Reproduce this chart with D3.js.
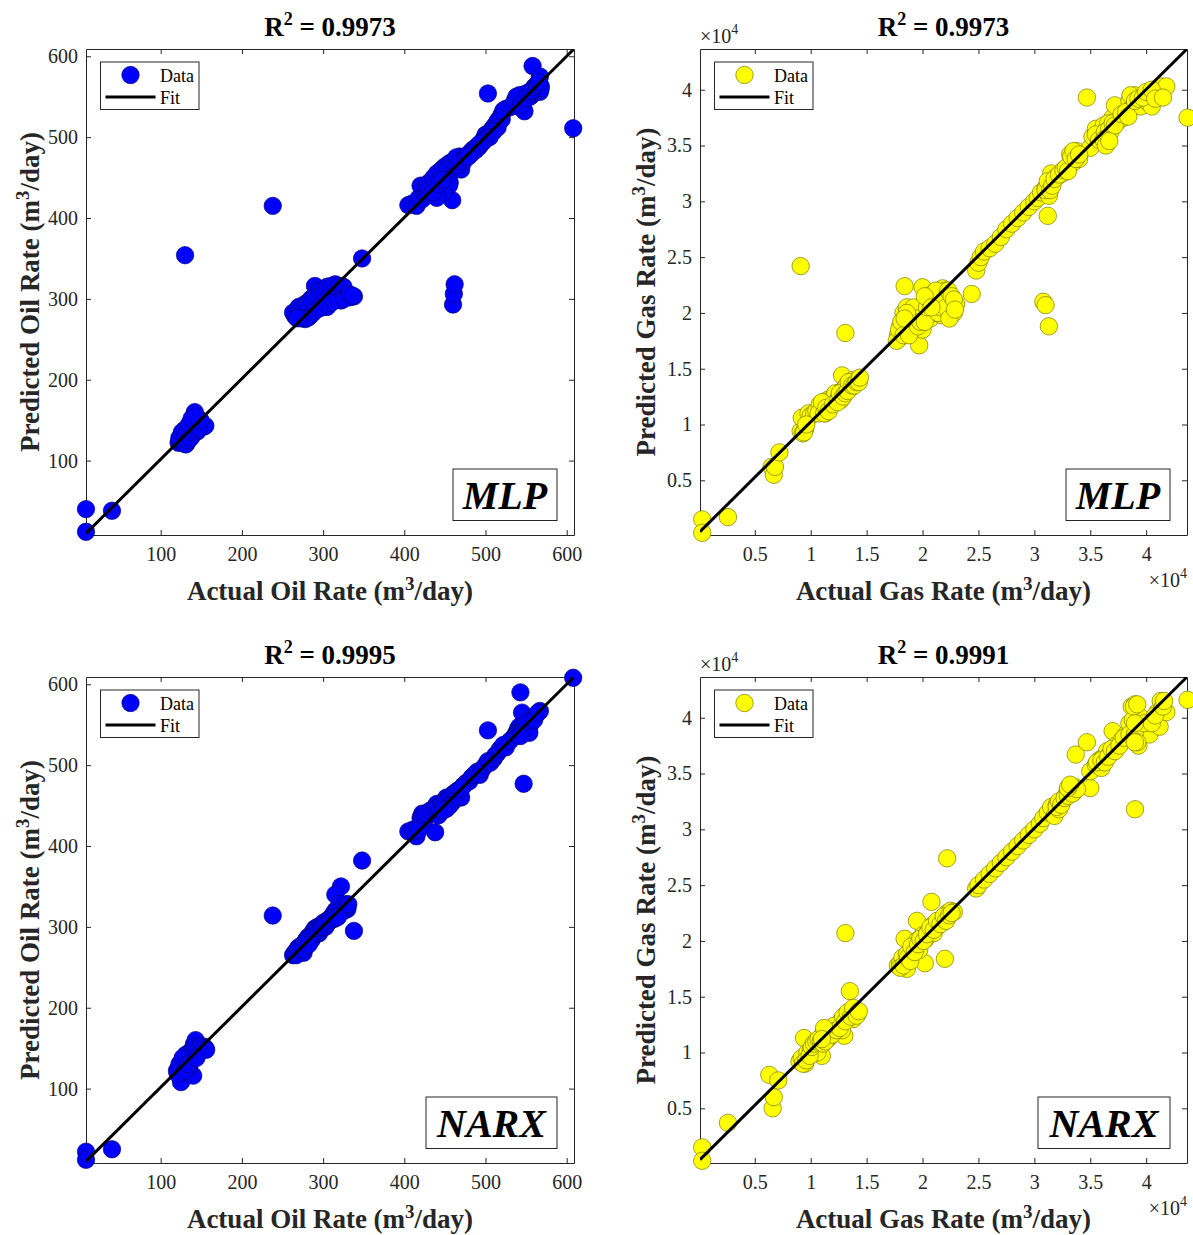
<!DOCTYPE html>
<html><head><meta charset="utf-8">
<script src="https://cdn.jsdelivr.net/npm/d3@7"></script>
<style>body{margin:0;background:#fff} svg{display:block}</style>
</head><body><svg id="c" width="1193" height="1235"></svg>
<script>
// ---------- data ----------
const oilTicks = [100, 200, 300, 400, 500, 600];
const gasTicks = [0.5, 1, 1.5, 2, 2.5, 3, 3.5, 4];            // ×10^4
const oilDomain = [8, 609];
const gasDomain = [0.01, 4.365];
const r2Values = ["0.9973", "0.9973", "0.9995", "0.9991"];
const modelNames = ["MLP", "MLP", "NARX", "NARX"];
const legendLabels = ["Data", "Fit"];
const oilFit = [[8, 10], [609, 609]];
const gasFit = [[0.01, 0.04], [4.365, 4.365]];

// [actual, predicted]
const mlpOil = [
 [8,40],[8,12],[40,38],[130,354],[238,415],[348,350],[338,303],[460,293],[461,306],[462,318],[459,422],[503,554],[608,511],[558,588],[567,575],[568,563],[567,556],
 [122,122],[124,125],[125,128],[126,131],[127,133],[128,124],[130,135],[130,126],[132,122],[133,130],[135,138],[137,140],[138,145],[138,130],[140,150],[141,155],[142,160],[143,148],[144,140],[145,136],[146,143],[148,145],[150,142],[153,142],[155,143],[135,128],[129,121],[131,120],[134,136],[140,142],
 [123,128],[126,135],[129,138],[131,132],[134,125],[137,128],[139,135],[142,138],[145,145],[147,140],[149,150],[135,145],[138,152],[143,155],
 [265,280],[268,284],[270,281],[272,278],[275,285],[278,282],[280,288],[282,290],[285,292],[287,295],[288,300],[290,316],[292,305],[295,298],[297,293],[300,300],[302,305],[305,296],[307,310],[310,302],[313,312],[315,318],[318,314],[320,308],[322,305],[325,310],[328,305],[330,303],[333,302],[294,294],[290,288],[284,279],[276,276],[300,290],[305,290],[312,299],[316,304],[263,283],[266,278],[308,300],
 [270,290],[275,292],[280,295],[285,300],[290,305],[295,310],[300,312],[305,315],[310,316],[315,312],[320,316],[325,315],[318,300],[322,298],[310,295],[300,295],[295,288],[288,283],[282,277],[278,275],[272,276],[268,276],[326,300],[332,306],[336,304],
 [405,416],[410,418],[415,415],[418,425],[420,440],[422,423],[425,430],[428,432],[432,438],[435,440],[438,446],[440,432],[442,428],[445,450],[448,455],[450,445],[452,448],[455,452],[457,457],[460,462],[462,465],[465,470],[468,476],[470,460],[472,468],[445,438],[438,436],[450,460],[456,444],[430,428],
 [428,442],[432,445],[436,450],[440,455],[444,458],[448,462],[452,465],[456,468],[460,470],[464,475],[466,465],[468,470],[455,440],[448,432],[440,425],[435,432],[442,442],[447,447],
 [475,475],[478,478],[482,482],[485,485],[488,487],[490,489],[492,488],[495,492],[498,498],[500,503],[502,500],[505,505],[508,510],[510,512],[512,515],[515,520],[518,524],[520,528],[522,533],[525,535],[530,537],[535,540],[540,545],[543,548],[545,550],[548,553],[550,552],[546,535],[540,538],[553,550],[555,550],[558,553],[560,555],[562,558],[565,560],[568,560],[548,532],
 [536,545],[538,550],[542,552],[544,540],[550,548],[552,555],[556,557],[560,562],[563,565],[566,568],[520,522],[515,512],[510,507],[505,500],[498,495],[493,492],[488,484],[483,480],[479,476]
];
const mlpGas = [
 [0.03,0.15],[0.03,0.03],[0.26,0.17],[0.65,0.62],[0.67,0.55],[0.68,0.62],[0.72,0.75],[0.91,2.42],[1.31,1.82],[2.44,2.17],[3.08,2.1],[3.1,2.07],[3.13,1.88],[3.12,2.87],[3.47,3.93],[4.37,3.75],[1.28,1.44],[1.97,1.71],
 [0.91,0.94],[0.93,0.92],[0.95,0.96],[0.92,1.06],[0.98,1.1],[1.0,1.08],[1.03,1.1],[1.05,1.12],[1.08,1.18],[1.1,1.15],[1.12,1.2],[1.15,1.22],[1.18,1.2],[1.2,1.25],[1.22,1.28],[1.25,1.24],[1.28,1.3],[1.3,1.32],[1.32,1.35],[1.35,1.38],[1.38,1.4],[1.4,1.37],[1.42,1.4],[1.36,1.33],[1.27,1.22],[1.13,1.1],[1.07,1.1],
 [1.1,1.2],[1.12,1.1],[1.14,1.15],[1.16,1.12],[1.2,1.18],[1.24,1.2],[1.26,1.28],[1.29,1.25],[1.31,1.28],[1.33,1.3],[1.34,1.38],[1.37,1.35],[1.39,1.35],[1.41,1.38],[1.43,1.38],[1.44,1.42],[0.94,0.93],[0.96,1.0],
 [1.78,1.8],[1.8,1.78],[1.82,1.85],[1.84,2.24],[1.83,2.0],[1.85,1.9],[1.87,1.95],[1.88,2.03],[1.9,1.85],[1.92,1.92],[1.95,1.98],[1.97,2.05],[2.0,2.23],[2.0,1.85],[2.03,2.1],[2.05,2.0],[2.07,1.95],[2.1,2.18],[2.12,2.05],[2.15,2.12],[2.17,1.98],[2.18,2.22],[2.2,2.2],[2.22,2.15],[2.25,2.1],[2.27,2.05],[2.28,2.0],[2.2,2.02],[1.8,1.88],[2.3,2.08],[2.1,2.0],[1.93,1.88],
 [1.77,1.75],[1.79,1.85],[1.81,1.92],[1.83,1.8],[1.86,2.05],[1.88,1.8],[1.9,2.0],[1.92,2.05],[1.94,1.95],[1.96,1.88],[1.98,1.92],[2.02,1.92],[2.04,2.05],[2.06,2.12],[2.08,2.15],[2.1,2.08],[2.12,2.2],[2.14,2.0],[2.16,2.05],[2.19,2.1],[2.21,2.05],[2.23,2.2],[2.24,1.95],[2.26,2.15],[2.28,2.12],[2.29,2.03],[2.02,2.15],[2.08,2.05],[1.86,2.0],[1.84,1.95],
 [2.48,2.38],[2.5,2.45],[2.52,2.5],[2.55,2.55],[2.6,2.58],[2.65,2.62],[2.7,2.68],[2.75,2.75],[2.8,2.8],[2.85,2.85],[2.9,2.9],[2.95,2.95],[3.0,3.0],[3.03,3.03],[3.06,3.08],[3.1,3.12],[3.13,3.15],[3.15,3.2],[3.15,3.25],[3.13,3.05],[3.2,3.22],[3.25,3.25],[3.3,3.3],[3.35,3.35],[3.38,3.45],[3.4,3.38],[3.32,3.42],[3.5,3.48],[3.52,3.58],[3.55,3.65],[3.58,3.6],[3.62,3.68],[3.65,3.55],[3.68,3.62],[3.7,3.75],[3.72,3.86],[3.75,3.72],[3.8,3.75],[3.85,3.9],[3.88,3.85],[3.9,3.95],[3.92,3.88],[3.95,3.85],[4.0,3.9],[4.02,3.97],[4.05,3.85],[4.1,3.95],[4.13,4.03],[4.18,4.03],[3.6,3.6],[3.66,3.7],
 [3.1,3.1],[3.12,3.18],[3.14,3.1],[3.16,3.14],[3.18,3.2],[3.22,3.24],[3.26,3.28],[3.28,3.3],[3.3,3.27],[3.33,3.4],[3.35,3.45],[3.37,3.38],[3.4,3.42],
 [3.55,3.6],[3.58,3.55],[3.63,3.62],[3.67,3.65],[3.7,3.7],[3.72,3.68],[3.78,3.78],[3.82,3.8],[3.84,3.76],[3.86,3.95],[3.9,3.9],[3.93,3.92],[3.97,3.93],[4.0,3.98],[4.05,4.0],[4.08,3.92],[4.15,3.93],[3.62,3.55],[3.64,3.5],[3.67,3.54]
];
const narxOil = [
 [8,22],[8,12],[40,25],[238,314],[348,382],[338,295],[322,350],[315,340],[438,417],[503,543],[543,590],[545,565],[547,477],[608,608],[567,567],[125,108],[140,116],
 [120,122],[122,125],[124,128],[125,132],[126,120],[128,135],[130,130],[132,140],[134,143],[135,126],[137,146],[138,138],[140,150],[141,155],[143,160],[145,142],[147,148],[150,150],[153,152],[155,150],[128,125],[133,135],[136,132],[139,140],[144,146],
 [121,118],[123,130],[127,138],[131,142],[133,128],[136,144],[139,147],[142,152],[146,150],[149,152],[152,150],[156,148],[130,122],[134,130],[144,138],
 [263,265],[265,268],[268,272],[270,275],[272,270],[275,278],[278,282],[280,285],[282,288],[285,290],[288,295],[290,298],[293,300],[295,292],[298,302],[300,305],[303,300],[305,308],[308,310],[310,312],[312,315],[315,320],[318,322],[320,328],[322,318],[325,325],[328,328],[330,322],[283,280],[276,268],[286,284],[291,291],
 [267,265],[271,272],[274,274],[277,280],[281,283],[284,287],[287,290],[289,292],[292,295],[294,298],[297,300],[299,300],[302,303],[306,305],[309,308],[313,312],[316,318],[319,316],[323,322],[326,320],[329,325],[331,328],[314,310],[318,312],[276,272],[282,278],
 [405,418],[410,420],[415,412],[418,425],[420,435],[422,440],[425,432],[430,440],[435,445],[438,448],[440,452],[442,438],[445,450],[448,455],[450,448],[452,460],[455,452],[458,458],[460,462],[462,465],[465,468],[468,470],[470,460],[473,475],[476,478],[480,480],[483,485],[486,488],[490,492],[493,488],[496,495],[500,500],[503,505],[506,503],[510,508],[512,512],[515,515],[518,520],[522,525],[525,522],[530,530],[535,535],[538,540],[540,545],[542,548],[545,542],[548,540],[550,545],[553,542],[555,550],[558,555],[560,560],[563,563],
 [412,418],[418,420],[423,438],[426,440],[432,444],[437,446],[441,447],[444,446],[447,452],[451,455],[454,458],[457,460],[461,465],[464,466],[467,468],[471,472],[460,455],[456,450],[452,446],[448,444],
 [538,538],[541,542],[544,545],[546,548],[549,550],[551,547],[554,540],[557,555],[560,556],[565,565],[543,536]
];
const narxGas = [
 [0.03,0.15],[0.03,0.03],[0.26,0.37],[0.63,0.8],[0.66,0.5],[0.67,0.6],[0.71,0.75],[0.94,1.13],[1.31,2.07],[1.35,1.55],[1.3,1.15],[2.08,2.35],[2.22,2.74],[2.2,1.84],[2.02,1.8],[1.95,2.18],[3.9,3.18],[3.5,3.37],[3.37,3.67],[3.47,3.78],[4.37,4.16],[3.5,3.52],
 [0.9,0.92],[0.92,0.95],[0.95,0.9],[0.97,1.0],[1.0,1.02],[1.02,1.05],[1.04,1.03],[1.06,1.08],[1.08,1.12],[1.1,0.97],[1.1,1.15],[1.12,1.18],[1.15,1.12],[1.18,1.15],[1.2,1.2],[1.22,1.22],[1.25,1.25],[1.27,1.28],[1.3,1.3],[1.32,1.33],[1.35,1.35],[1.37,1.38],[1.4,1.37],[1.42,1.35],[1.38,1.3],[1.28,1.2],[1.06,1.0],
 [0.93,0.9],[0.96,0.93],[0.99,0.97],[1.01,1.05],[1.03,1.08],[1.05,1.1],[1.07,1.12],[1.09,1.1],[1.11,1.08],[1.13,1.1],[1.16,1.18],[1.19,1.16],[1.21,1.24],[1.23,1.2],[1.26,1.22],[1.29,1.32],[1.31,1.28],[1.33,1.36],[1.36,1.32],[1.38,1.4],[1.41,1.33],[1.43,1.37],[1.12,1.22],[1.1,1.12],
 [1.78,1.78],[1.8,1.8],[1.82,1.85],[1.85,1.8],[1.84,2.02],[1.86,1.75],[1.88,1.88],[1.9,1.92],[1.92,1.95],[1.95,2.0],[1.97,1.92],[2.0,2.05],[2.03,2.02],[2.05,2.08],[2.08,2.1],[2.1,2.15],[2.12,2.12],[2.15,2.18],[2.18,2.2],[2.2,2.22],[2.22,2.25],[2.25,2.27],[2.28,2.26],[2.1,2.07],
 [1.8,1.76],[1.83,1.78],[1.86,1.88],[1.87,1.85],[1.89,1.82],[1.9,1.95],[1.93,1.9],[1.96,1.97],[1.98,2.02],[2.01,2.0],[2.04,2.06],[2.07,2.12],[2.1,2.1],[2.13,2.18],[2.16,2.15],[2.19,2.22],[2.21,2.18],[2.24,2.23],[2.26,2.25],
 [2.48,2.47],[2.5,2.5],[2.55,2.55],[2.6,2.6],[2.65,2.65],[2.7,2.7],[2.75,2.75],[2.8,2.8],[2.85,2.85],[2.9,2.9],[2.95,2.95],[3.0,3.0],[3.05,3.05],[3.08,3.1],[3.12,3.15],[3.15,3.2],[3.18,3.12],[3.2,3.22],[3.25,3.25],[3.28,3.3],[3.3,3.35],[3.33,3.38],[3.35,3.33],[3.22,3.18],[3.55,3.58],[3.58,3.62],[3.6,3.55],[3.62,3.65],[3.65,3.7],[3.68,3.68],[3.7,3.88],[3.73,3.75],[3.78,3.8],[3.82,3.85],[3.85,3.95],[3.87,4.1],[3.9,4.12],[3.9,3.8],[3.92,3.95],[3.93,3.75],[3.95,3.9],[4.0,3.95],[4.03,3.85],[4.1,4.05],[4.12,3.92],[4.13,4.15],[4.18,4.05],
 [3.2,3.2],[3.22,3.25],[3.24,3.22],[3.27,3.28],[3.3,3.3],[3.32,3.35],[3.34,3.32],[3.36,3.38],[3.38,3.36],[3.3,3.37],[3.32,3.4],
 [3.56,3.6],[3.6,3.62],[3.63,3.6],[3.66,3.65],[3.69,3.72],[3.72,3.7],[3.76,3.75],[3.8,3.82],[3.85,3.85],[3.88,3.98],[3.9,3.85],[3.92,3.78],[3.95,4.0],[3.98,3.95],[4.05,3.95],[4.08,4.02],[4.15,4.1],[4.16,4.15],[3.89,4.1],[3.92,4.12],[3.9,3.95],[3.9,3.78]
];

// ---------- layout ----------
const FONT = "'Liberation Serif','Times New Roman',serif";
const AXC = "#262626";
const panels = [
 {left:86,  top:49,  w:488, h:486, data:mlpOil,  gas:false, r2:r2Values[0], model:modelNames[0], boxW:104},
 {left:700, top:49,  w:487, h:486, data:mlpGas,  gas:true,  r2:r2Values[1], model:modelNames[1], boxW:104},
 {left:86,  top:677, w:488, h:486, data:narxOil, gas:false, r2:r2Values[2], model:modelNames[2], boxW:131},
 {left:700, top:677, w:487, h:486, data:narxGas, gas:true,  r2:r2Values[3], model:modelNames[3], boxW:132}
];

const svg = d3.select("#c");

panels.forEach((p, i) => {
  const dom = p.gas ? gasDomain : oilDomain;
  const ticks = p.gas ? gasTicks : oilTicks;
  const x = d3.scaleLinear().domain(dom).range([0, p.w]);
  const y = d3.scaleLinear().domain(dom).range([p.h, 0]);
  const g = svg.append("g").attr("transform", `translate(${p.left},${p.top})`);
  const fill = p.gas ? "#FFFF00" : "#0000FF";
  const edge = p.gas ? "#7a7a00" : "#00007a";
  const fmt = d => String(d);

  g.append("clipPath").attr("id", "clip" + i).append("rect")
    .attr("x", 0).attr("y", 0).attr("width", p.w).attr("height", p.h);

  const styleAxis = sel => {
    sel.selectAll("path.domain").attr("stroke", AXC).attr("stroke-width", 1);
    sel.selectAll(".tick line").attr("stroke", AXC).attr("stroke-width", 1);
    sel.selectAll(".tick text").attr("fill", AXC).attr("font-family", FONT).attr("font-size", 20);
  };
  g.append("g").attr("transform", `translate(0,${p.h})`)
    .call(d3.axisBottom(x).tickValues(ticks).tickFormat(fmt).tickSize(-5).tickSizeOuter(0).tickPadding(12)).call(styleAxis);
  g.append("g")
    .call(d3.axisLeft(y).tickValues(ticks).tickFormat(fmt).tickSize(-5).tickSizeOuter(0).tickPadding(8)).call(styleAxis);
  g.append("g")
    .call(d3.axisTop(x).tickValues(ticks).tickFormat("").tickSize(-5).tickSizeOuter(0)).call(styleAxis);
  g.append("g").attr("transform", `translate(${p.w},0)`)
    .call(d3.axisRight(y).tickValues(ticks).tickFormat("").tickSize(-5).tickSizeOuter(0)).call(styleAxis);

  // points
  g.append("g").selectAll("circle").data(p.data).join("circle")
    .attr("cx", d => x(d[0])).attr("cy", d => y(d[1])).attr("r", 8.7)
    .attr("fill", fill).attr("stroke", edge).attr("stroke-width", 0.7);

  // fit line
  const fit = p.gas ? gasFit : oilFit;
  g.append("path").attr("clip-path", `url(#clip${i})`)
    .attr("d", d3.line().x(d => x(d[0])).y(d => y(d[1]))(fit))
    .attr("stroke", "#000").attr("stroke-width", 3).attr("fill", "none");

  // legend
  const lg = g.append("g").attr("transform", "translate(14.5,13)");
  lg.append("rect").attr("width", 98.5).attr("height", 47.5).attr("fill", "#fff").attr("stroke", AXC).attr("stroke-width", 1);
  lg.append("circle").attr("cx", 30).attr("cy", 13).attr("r", 8.7).attr("fill", fill).attr("stroke", edge).attr("stroke-width", 0.7);
  lg.append("line").attr("x1", 5).attr("x2", 55).attr("y1", 35).attr("y2", 35).attr("stroke", "#000").attr("stroke-width", 3);
  lg.append("text").attr("x", 59.5).attr("y", 19.5).text(legendLabels[0]).attr("font-family", FONT).attr("font-size", 18).attr("fill", "#000");
  lg.append("text").attr("x", 59.5).attr("y", 41.5).text(legendLabels[1]).attr("font-family", FONT).attr("font-size", 18).attr("fill", "#000");

  // model box
  const bx = p.w - 17 - p.boxW, by = p.h - 14.5 - 51.5;
  g.append("rect").attr("x", bx).attr("y", by).attr("width", p.boxW).attr("height", 51.5)
    .attr("fill", "#fff").attr("stroke", AXC).attr("stroke-width", 1);
  g.append("text").attr("x", bx + p.boxW / 2).attr("y", by + 40).attr("text-anchor", "middle")
    .attr("font-family", FONT).attr("font-size", 40).attr("font-weight", "bold").attr("font-style", "italic")
    .attr("fill", "#000").text(p.model);

  // title
  const t = g.append("text").attr("x", p.w / 2).attr("y", -13).attr("text-anchor", "middle")
    .attr("font-family", FONT).attr("font-size", 27).attr("font-weight", "bold").attr("fill", "#000");
  t.append("tspan").text("R");
  t.append("tspan").attr("dy", -11).attr("font-size", 18).text("2");
  t.append("tspan").attr("dy", 11).text(" = " + p.r2);

  // x label
  const fluid = p.gas ? "Gas" : "Oil";
  const xl = g.append("text").attr("x", p.w / 2).attr("y", p.h + 65).attr("text-anchor", "middle")
    .attr("font-family", FONT).attr("font-size", 27).attr("font-weight", "bold").attr("fill", AXC);
  xl.append("tspan").text(`Actual ${fluid} Rate (m`);
  xl.append("tspan").attr("dy", -10).attr("font-size", 19).text("3");
  xl.append("tspan").attr("dy", 10).text("/day)");

  // y label
  const ylx = p.gas ? -45 : -47;
  const yl = g.append("text").attr("transform", `translate(${ylx},${p.h / 2}) rotate(-90)`).attr("text-anchor", "middle")
    .attr("font-family", FONT).attr("font-size", 27).attr("font-weight", "bold").attr("fill", AXC);
  yl.append("tspan").text(`Predicted ${fluid} Rate (m`);
  yl.append("tspan").attr("dy", -10).attr("font-size", 19).text("3");
  yl.append("tspan").attr("dy", 10).text("/day)");

  if (p.gas) {
    const e1 = g.append("text").attr("x", 0).attr("y", -6).attr("font-family", FONT).attr("font-size", 20).attr("fill", AXC);
    e1.append("tspan").text("×10");
    e1.append("tspan").attr("dy", -9).attr("font-size", 14).text("4");
    const e2 = g.append("text").attr("x", p.w).attr("y", p.h + 52).attr("text-anchor", "end").attr("font-family", FONT).attr("font-size", 20).attr("fill", AXC);
    e2.append("tspan").text("×10");
    e2.append("tspan").attr("dy", -9).attr("font-size", 14).text("4");
  }
});
</script></body></html>
